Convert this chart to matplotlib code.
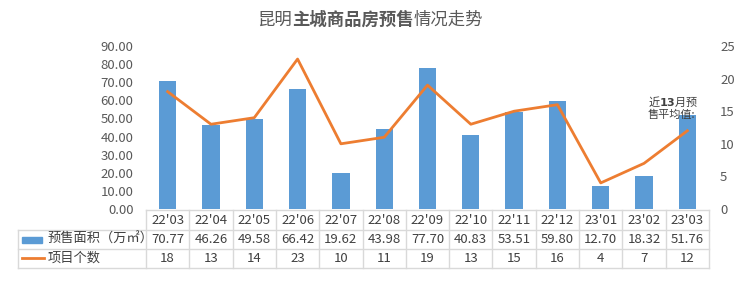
import matplotlib
matplotlib.use("Agg")
import matplotlib.pyplot as plt
from matplotlib.lines import Line2D
from matplotlib.patches import Rectangle
import matplotlib.transforms as mtransforms

plt.rcParams['font.family'] = ['Noto Sans CJK SC', 'DejaVu Sans']

# 数据
months = ["22'03", "22'04", "22'05", "22'06", "22'07", "22'08", "22'09",
          "22'10", "22'11", "22'12", "23'01", "23'02", "23'03"]
area = [70.77, 46.26, 49.58, 66.42, 19.62, 43.98, 77.70,
        40.83, 53.51, 59.80, 12.70, 18.32, 51.76]
count = [18, 13, 14, 23, 10, 11, 19, 13, 15, 16, 4, 7, 12]
area_label = "预售面积（万㎡）"
count_label = "项目个数"
title_parts = [("昆明", "normal"), ("主城商品房预售", "bold"), ("情况走势", "normal")]

W, H = 740, 282
blue = "#5b9bd5"
orange = "#ed7d31"
grey = "#595959"
grid_c = "#d9d9d9"


def fx(px):
    return px / W


def fy(py):
    return 1 - py / H


fig = plt.figure(figsize=(W / 100, H / 100), dpi=100)
ax = fig.add_axes([fx(146), fy(209), fx(709) - fx(146), fy(46) - fy(209)])
x = list(range(len(months)))
ax.bar(x, area, width=0.4, color=blue)
ax.set_xlim(-0.5, len(months) - 0.5)
ax.set_ylim(0, 90)
ax.set_yticks(range(0, 91, 10))
ax.set_yticklabels(["%.2f" % v for v in range(0, 91, 10)])
ax.set_xticks([])
ax.tick_params(axis='y', length=0, pad=9, labelsize=9.5, labelcolor=grey)
for s in ax.spines.values():
    s.set_visible(False)

ax2 = ax.twinx()
ax2.plot(x, count, color=orange, lw=2)
ax2.set_ylim(0, 25)
ax2.set_yticks(range(0, 26, 5))
ax2.tick_params(axis='y', length=0, pad=8, labelsize=9.5, labelcolor=grey)
for s in ax2.spines.values():
    s.set_visible(False)

# 标题，中间部分加粗
renderer = fig.canvas.get_renderer()
pieces = []
for txt, wt in title_parts:
    t = fig.text(0, fy(20), txt, ha='left', va='center', fontsize=12.5,
                 color=grey, fontweight=wt)
    pieces.append(t)
widths = [t.get_window_extent(renderer).width for t in pieces]
start = W / 2 - sum(widths) / 2
for t, w in zip(pieces, widths):
    t.set_x(start / W)
    start += w

fig.text(fx(648), fy(95), "近$\\mathbf{13}$月预\n售平均值:",
         ha='left', va='top', fontsize=8, color="#404040", linespacing=1.05)

# 数据表
tr = mtransforms.blended_transform_factory(ax.transData, fig.transFigure)
rows_y = [210, 230, 249, 268]
x0 = -0.5
x1 = len(months) - 0.5
lab_left = 18
lw = 1.0
# 横线
fig.add_artist(Line2D([x0, x1], [fy(210), fy(210)], transform=tr, color=grid_c, lw=lw))
for yy in rows_y[1:]:
    fig.add_artist(Line2D([fx(lab_left), fx(709)], [fy(yy), fy(yy)],
                          transform=fig.transFigure, color=grid_c, lw=lw))
# 竖线
for i in range(len(months) + 1):
    fig.add_artist(Line2D([i - 0.5, i - 0.5], [fy(210), fy(268)], transform=tr,
                          color=grid_c, lw=lw))
fig.add_artist(Line2D([fx(lab_left), fx(lab_left)], [fy(230), fy(268)],
                      transform=fig.transFigure, color=grid_c, lw=lw))

tcol = "#404040"
for i, m in enumerate(months):
    fig.text(i, fy(220), m, transform=tr, ha='center', va='center', fontsize=9.5, color=tcol)
    fig.text(i, fy(239.5), "%.2f" % area[i], transform=tr, ha='center', va='center',
             fontsize=9.5, color=tcol)
    fig.text(i, fy(258.5), str(count[i]), transform=tr, ha='center', va='center',
             fontsize=9.5, color=tcol)

# 图例
fig.add_artist(Rectangle((fx(22), fy(243)), fx(20), fy(237) - fy(243),
                         transform=fig.transFigure, color=blue))
fig.add_artist(Line2D([fx(22), fx(44)], [fy(258), fy(258)], transform=fig.transFigure,
                      color=orange, lw=2))
fig.text(fx(48), fy(239.5), area_label, ha='left', va='center', fontsize=9.5, color=tcol)
fig.text(fx(48), fy(258.5), count_label, ha='left', va='center', fontsize=9.5, color=tcol)

fig.savefig("out.png", dpi=100)
